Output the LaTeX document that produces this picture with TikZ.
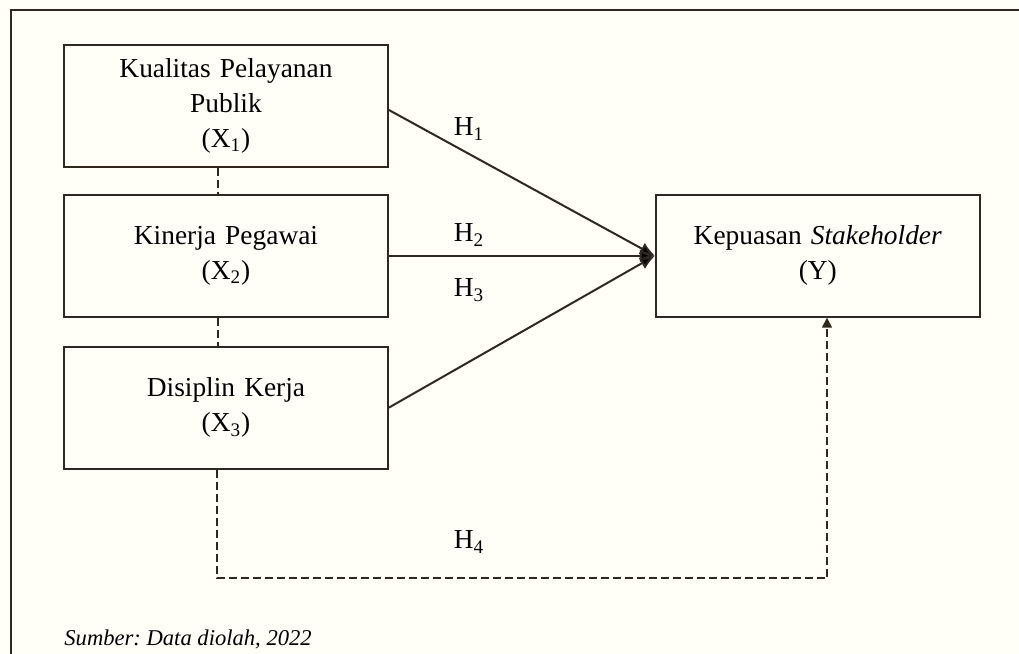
\documentclass[tikz,border=0pt]{standalone}
\usepackage{fontspec}
\setmainfont{Liberation Serif}
\usetikzlibrary{arrows.meta,positioning}
\definecolor{paper}{RGB}{255,254,247}
\definecolor{ink}{RGB}{46,40,30}

\begin{document}
\begin{tikzpicture}[
            x=0.5pt, y=-0.5pt,
            var/.style={
                draw=ink, line width=0.9pt,
                minimum width=162pt, minimum height=61pt,
                text width=150pt, align=center, inner sep=0pt,
                font=\fontsize{13.7}{17.5}\selectfont
            },
            hyp/.style={
                draw=ink, line width=1pt,
                -{Latex[length=7.5pt,width=6.5pt,fill=black]}
            },
            link/.style={
                draw=ink, line width=0.8pt,
                dash pattern=on 4pt off 2pt
            },
            lbl/.style={
                font=\fontsize{13.7}{16}\selectfont
            }
        ]
        \fill[paper] (0,0) rectangle (1019,654);
        \useasboundingbox (0,0) rectangle (1019,654);
        \draw[ink, line width=1.2pt] (11,654) -- (11,10) -- (1019,10);

        \node[var] (kp) at (226,106) {Kualitas Pelayanan\\Publik\\(X\textsubscript{1})};
        \node[var, below=13pt of kp] (kin) {Kinerja Pegawai\\(X\textsubscript{2})};
        \node[var, below=14pt of kin] (dk) {Disiplin Kerja\\(X\textsubscript{3})};
        \node[var, right=133pt of kin] (ks) {Kepuasan \textit{Stakeholder}\\(Y)};

        \draw[hyp] ([yshift=-2pt]kp.east) -- (ks.west);
        \draw[hyp] (kin.east) -- (ks.west);
        \draw[hyp] (dk.east) -- (ks.west);

        \draw[link] ([xshift=-4pt]kp.south) -- ([xshift=-4pt]kin.north);
        \draw[link] ([xshift=-4pt]kin.south) -- ([xshift=-4pt]dk.north);

        \coordinate (h4) at (827,578);
        \draw[link, -{Triangle[length=5pt,width=5pt]}] ([xshift=-4.5pt]dk.south) |- (h4) -- (h4 |- ks.south);

        \node[lbl] (h1) at (469,129) {H\textsubscript{1}};
        \node[lbl] (h2) at (469,235) {H\textsubscript{2}};
        \node[lbl] (h3) at (469,290) {H\textsubscript{3}};
        \node[lbl] (h4l) at (469,542) {H\textsubscript{4}};

        \node[anchor=base west, inner sep=0pt, font=\fontsize{11.3}{13}\selectfont\itshape\frenchspacing] (src) at (64,645) {Sumber: Data diolah, 2022};
        \end{tikzpicture}
\end{document}
